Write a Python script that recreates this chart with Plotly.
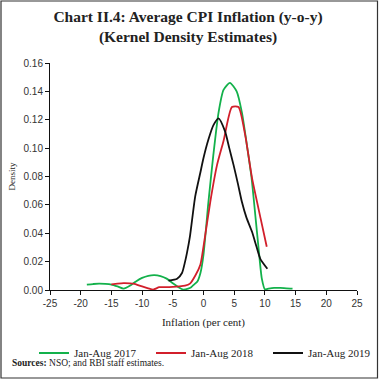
import plotly.graph_objects as go

# ---- data ----
x_2017 = [-19, -18, -17, -16, -15, -14, -13, -12, -11, -10, -9, -8, -7, -6, -5, -4, -3.3, -2.5,
          -2, -1.5, -1, -0.5, 0, 0.8, 1.6, 2.45, 3.26, 4.3, 5.4, 6.26, 7.07, 7.8, 8.5, 9.0, 9.5,
          10.0, 10.6, 11.5, 12.5, 13.5, 14.5]
y_2017 = [0.0038, 0.0042, 0.0045, 0.0043, 0.0038, 0.0025, 0.001, 0.003, 0.006, 0.0085, 0.010,
          0.0105, 0.0098, 0.008, 0.0048, 0.0018, 0.0003, 0.001, 0.002, 0.004, 0.006, 0.012,
          0.025, 0.062, 0.095, 0.125, 0.141, 0.146, 0.140, 0.125, 0.102, 0.080, 0.050, 0.028,
          0.008, 0.0005, 0.001, 0.0015, 0.0015, 0.0012, 0.001]

x_2018 = [-15, -14, -13, -12, -11.4, -10, -9, -8.2, -7.2, -6, -5, -4, -3, -2.2, -1.35, -0.5,
          0, 1.1, 2.2, 3.26, 4.63, 5.7, 6.8, 7.9, 9.3, 10.3]
y_2018 = [0.004, 0.0045, 0.0048, 0.0047, 0.0045, 0.0025, 0.0012, 0.0003, 0.002, 0.002, 0.0022,
          0.0025, 0.003, 0.0045, 0.010, 0.018, 0.0305, 0.062, 0.088, 0.105, 0.129, 0.129,
          0.109, 0.079, 0.0505, 0.0305]

x_2019 = [-5.7, -4.3, -3.5, -3, -2.7, -2.2, -1.35, -0.5, 0, 0.8, 1.6, 2.45, 3.5, 4.2, 4.9, 5.6,
          6.26, 7.0, 7.9, 8.6, 9.25, 10.4]
y_2019 = [0.0066, 0.008, 0.012, 0.020, 0.026, 0.038, 0.066, 0.083, 0.093, 0.106, 0.116, 0.121,
          0.112, 0.100, 0.088, 0.075, 0.062, 0.051, 0.041, 0.031, 0.022, 0.015]

series_names = ["Jan-Aug 2017", "Jan-Aug 2018", "Jan-Aug 2019"]
x_ticks = [-25, -20, -15, -10, -5, 0, 5, 10, 15, 20, 25]
y_ticks = [0.00, 0.02, 0.04, 0.06, 0.08, 0.10, 0.12, 0.14, 0.16]

colors = ["#13b14b", "#d21f2b", "#111111"]

W, H = 379, 381
L, R, T, B = 50, 22, 63, 91
PW, PH = W - L - R, H - T - B


def px(x):
    return (x - L) / PW


def py(y):
    return (H - B - y) / PH


SERIF = "Liberation Serif"
SANS = "Liberation Sans"

fig = go.Figure()
for xs, ys, name, c in zip([x_2017, x_2018, x_2019], [y_2017, y_2018, y_2019], series_names, colors):
    fig.add_trace(go.Scatter(x=xs, y=ys, mode="lines", name=name,
                             line=dict(color=c, width=1.8, shape="spline", smoothing=0.6)))

fig.update_layout(
    width=W, height=H,
    margin=dict(l=L, r=R, t=T, b=B, autoexpand=False),
    paper_bgcolor="white", plot_bgcolor="white",
    title=dict(text="<b>Chart II.4: Average CPI Inflation (y-o-y)<br>(Kernel Density Estimates)</b>",
               x=188 / W, xanchor="center", y=1 - 22 / H, yanchor="middle", yref="container",
               font=dict(family=SERIF, size=15.5, color="#222")),
    showlegend=True,
    legend=dict(orientation="h", x=px(34), xanchor="left", y=py(353), yanchor="middle",
                font=dict(family=SERIF, size=11, color="#222"),
                entrywidth=72, entrywidthmode="pixels", bgcolor="rgba(0,0,0,0)"),
    xaxis=dict(range=[-25, 25], tickvals=x_ticks, ticktext=[str(v) for v in x_ticks],
               showgrid=False, zeroline=False, showline=True, linecolor="#111", linewidth=1,
               ticks="outside", ticklen=4, tickcolor="#111",
               tickfont=dict(family=SANS, size=10, color="#333"),
               title=dict(text="Inflation (per cent)", standoff=10,
                          font=dict(family=SERIF, size=11, color="#222"))),
    yaxis=dict(range=[0, 0.16], tickvals=y_ticks, tickformat=".2f",
               showgrid=False, zeroline=False, showline=True, linecolor="#111", linewidth=1,
               ticks="outside", ticklen=4, tickcolor="#111",
               tickfont=dict(family=SANS, size=10, color="#333"),
               title=dict(text="Density", standoff=6,
                          font=dict(family=SERIF, size=9, color="#222"))),
)

# outer frame
fig.add_shape(type="rect", xref="paper", yref="paper",
              x0=px(1), x1=px(377.5), y0=py(378), y1=py(1),
              line=dict(color="#333", width=1.2), fillcolor="rgba(0,0,0,0)", layer="above")

fig.add_annotation(text="<b>Sources:</b> NSO; and RBI staff estimates.", xref="paper", yref="paper",
                   x=px(10), y=py(363), xanchor="left", yanchor="middle", showarrow=False,
                   font=dict(family=SERIF, size=9.5, color="#222"))

fig.write_html("out.html",
               config={"displayModeBar": False},
               post_script="document.body.style.margin='0';document.body.style.overflow='hidden';")
